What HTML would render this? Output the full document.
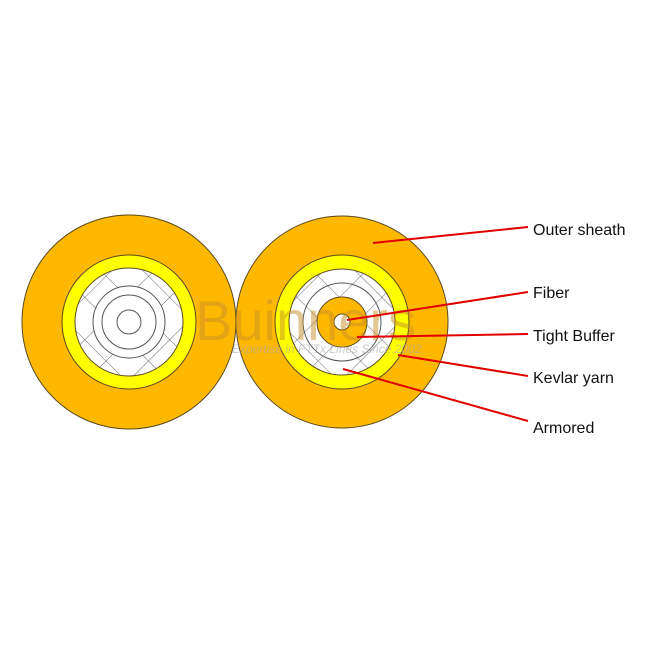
<!DOCTYPE html>
<html><head><style>body{margin:0;background:#fff}svg{display:block}</style></head><body>
<svg width="650" height="650" viewBox="0 0 650 650" xmlns="http://www.w3.org/2000/svg">
<defs>
<pattern id="h" width="30" height="30" patternUnits="userSpaceOnUse" patternTransform="rotate(45)">
<path d="M0 0H30M0 0V30" stroke="#444" stroke-width="0.8" fill="none"/>
</pattern>
</defs>
<g stroke="#5a4a20" stroke-width="1">
<circle cx="129" cy="322" r="107" fill="#ffb800"/>
<circle cx="129" cy="322" r="67" fill="#ffff00"/>
<circle cx="129" cy="322" r="54" fill="#fff"/>
<circle cx="129" cy="322" r="54" fill="url(#h)" stroke="none"/>
<circle cx="129" cy="322" r="36" fill="#fff" stroke="#555"/>
<circle cx="129" cy="322" r="27" fill="#fff" stroke="#555"/>
<circle cx="129" cy="322" r="12" fill="#fff" stroke="#555"/>

<circle cx="342" cy="322" r="106" fill="#ffb800"/>
<circle cx="342" cy="322" r="67" fill="#ffff00"/>
<circle cx="342" cy="322" r="53" fill="#fff"/>
<circle cx="342" cy="322" r="53" fill="url(#h)" stroke="none"/>
<circle cx="342" cy="322" r="39" fill="none" stroke="#555"/>
<circle cx="342" cy="322" r="25" fill="#ffb800"/>
<circle cx="342" cy="322" r="8" fill="#fff"/>
</g>
<text x="195" y="340" font-family="Liberation Sans, sans-serif" font-size="56" fill="#c8902a" opacity="0.5">Buinners</text>
<text x="232" y="353" font-family="Liberation Sans, sans-serif" font-size="12" font-style="italic" fill="#aaa" opacity="0.6">Expertise in FTTx Lines Since 2002</text>
<g stroke="#e00000" stroke-width="2">
<line x1="373" y1="243" x2="528" y2="227"/>
<line x1="347" y1="320" x2="528" y2="292"/>
<line x1="357" y1="337" x2="528" y2="334"/>
<line x1="398" y1="355" x2="528" y2="376"/>
<line x1="343" y1="369" x2="528" y2="421"/>
</g>
<g font-family="Liberation Sans, Arial, sans-serif" font-size="16" fill="#111">
<text x="533" y="235">Outer sheath</text>
<text x="533" y="298">Fiber</text>
<text x="533" y="341">Tight Buffer</text>
<text x="533" y="383">Kevlar yarn</text>
<text x="533" y="433">Armored</text>
</g>
</svg>
</body></html>
